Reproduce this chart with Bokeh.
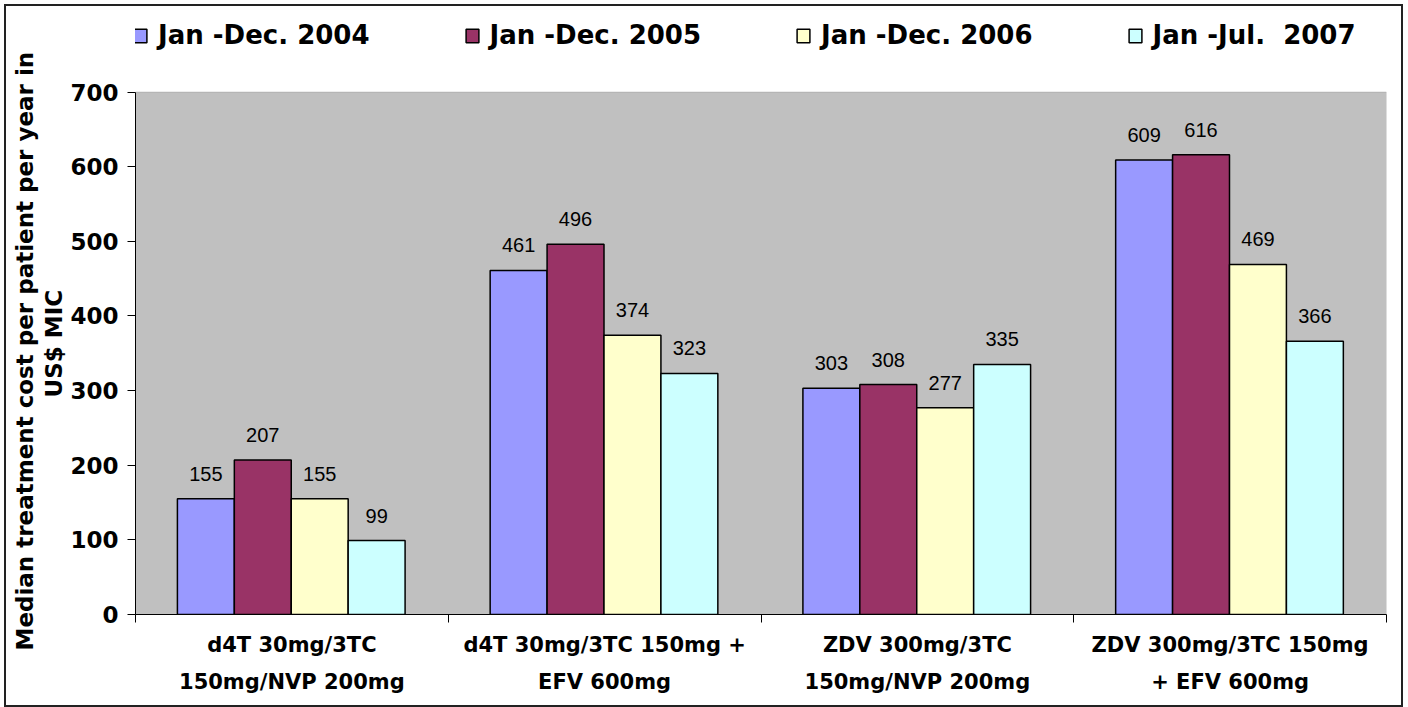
from bokeh.plotting import figure
from bokeh.models import ColumnDataSource, FixedTicker, Legend, LegendItem, Range1d, BoxAnnotation, Title
from bokeh.core.properties import value
from bokeh.embed import file_html
from bokeh.resources import INLINE

# ---- data ----
categories = [
    "d4T 30mg/3TC\n150mg/NVP 200mg",
    "d4T 30mg/3TC 150mg +\nEFV 600mg",
    "ZDV 300mg/3TC\n150mg/NVP 200mg",
    "ZDV 300mg/3TC 150mg\n+ EFV 600mg",
]
series_names = ["Jan -Dec. 2004", "Jan -Dec. 2005", "Jan -Dec. 2006", "Jan -Jul.  2007"]
v2004 = [155, 461, 303, 609]
v2005 = [207, 496, 308, 616]
v2006 = [155, 374, 277, 469]
v2007 = [99, 323, 335, 366]
y_ticks = [0, 100, 200, 300, 400, 500, 600, 700]
y_title_lines = ["Median treatment cost per patient per year in", "US$ MIC"]
colors = ["#9999FF", "#993366", "#FFFFCC", "#CCFFFF"]

series_values = [v2004, v2005, v2006, v2007]

FONT = "DejaVu Sans"

# layout (screen pixels inside the canvas)
H = 699
top_border = 3          # frame (incl. legend strip) starts here
bottom_border = 95
plot_area_px = 519      # height of the 0..700 area
y_max = y_ticks[-1]
frame_px = H - top_border - bottom_border
y_end = y_max * frame_px / plot_area_px

p = figure(width=1395, height=H, x_range=Range1d(0, 4), y_range=Range1d(0, y_end),
           output_backend="svg", toolbar_location=None, title=None,
           min_border_left=129, min_border_right=19, min_border_top=top_border,
           min_border_bottom=bottom_border)
p.styles = {"border": "2px solid #222", "box-sizing": "content-box",
            "margin-left": "4px", "margin-top": "4px"}
p.background_fill_color = "white"
p.border_fill_color = "white"
p.outline_line_color = None
p.xgrid.visible = False
p.ygrid.visible = False

area = BoxAnnotation(bottom=0, top=y_max, fill_color="#C0C0C0", fill_alpha=1,
                     line_color="#808080", line_width=1, level="underlay")
p.add_layout(area)

bar_w = 0.182
offsets = [-0.275, -0.093, 0.089, 0.271]
centers = [i + 0.5 for i in range(len(categories))]

items = []
for name, vals, col, off in zip(series_names, series_values, colors, offsets):
    src = ColumnDataSource(dict(x=[c + off for c in centers], top=vals,
                                lab=[str(v) for v in vals]))
    r = p.vbar(x="x", top="top", width=bar_w, source=src, fill_color=col,
               line_color="black", line_width=1.5)
    p.text(x="x", y="top", text="lab", source=src, y_offset=-25,
           text_align="center", text_baseline="alphabetic",
           text_font=value("Liberation Sans"), text_font_size="20px", text_color="black")
    items.append(LegendItem(label=name, renderers=[r]))

# y axis
yax = p.yaxis[0]
yax.ticker = FixedTicker(ticks=y_ticks)
yax.bounds = (0, y_max)
yax.major_tick_out = 8
yax.major_tick_in = 0
yax.minor_tick_line_color = None
yax.major_label_standoff = 9
yax.major_label_text_font = FONT
yax.major_label_text_font_style = "bold"
yax.major_label_text_font_size = "23px"
yax.major_label_text_color = "black"
yax.axis_line_color = "black"

# y axis title as two left-side titles (inner line first); offset measured from frame bottom
for line, off in zip(reversed(y_title_lines), [217, -36]):
    t = Title(text=line, align="left", offset=off, standoff=1,
              text_font=FONT, text_font_style="bold", text_font_size="23px",
              text_color="black")
    p.add_layout(t, "left")

# x axis
xax = p.xaxis[0]
xax.ticker = FixedTicker(ticks=centers, minor_ticks=[0, 1, 2, 3, 4])
xax.major_label_overrides = {c: lab for c, lab in zip(centers, categories)}
xax.major_tick_line_color = None
xax.major_tick_out = 0
xax.major_tick_in = 0
xax.minor_tick_out = 8
xax.minor_tick_in = 0
xax.minor_tick_line_color = "black"
xax.major_label_standoff = 10
xax.major_label_text_font = FONT
xax.major_label_text_font_style = "bold"
xax.major_label_text_font_size = "21px"
xax.major_label_text_color = "black"
xax.major_label_text_line_height = 1.55
xax.axis_line_color = "black"

legend = Legend(items=items, orientation="horizontal",
                location=(-3, frame_px - 37),
                spacing=94, label_standoff=10, glyph_width=16, glyph_height=17,
                padding=0, margin=0, border_line_color=None, background_fill_alpha=0,
                label_text_font=FONT, label_text_font_style="bold",
                label_text_font_size="26px", label_text_color="black")
p.add_layout(legend, "center")

open("out.html", "w").write(file_html(p, INLINE))
